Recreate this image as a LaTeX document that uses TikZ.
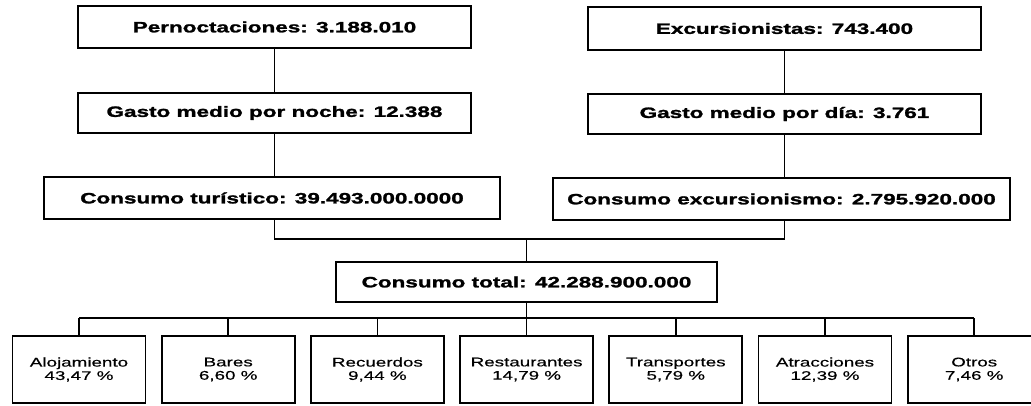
\documentclass[tikz,border=0pt]{standalone}
\usepackage{fontspec}
\newfontfamily\diagfont[FakeStretch=1.5, UprightFeatures={FakeBold=0.5}, BoldFeatures={FakeBold=1.6}]{Liberation Sans}
\tikzset{
  topbox/.style={draw, line width=1.3pt, inner sep=0pt, minimum height=31pt, font=\diagfont\bfseries\fontsize{11.25}{13}\selectfont},
  itembox/.style={draw, line width=1.3pt, inner sep=0pt, minimum width=99.75pt, minimum height=50.25pt, align=center, font=\diagfont\fontsize{9.4}{10}\selectfont},
  link/.style={line width=1.3pt}
}
\begin{document}
\begin{tikzpicture}[x=0.75pt,y=0.75pt,yscale=-1,xscale=1]
\useasboundingbox (0,0) rectangle (1031,406);
\clip (0,0) rectangle (1031,406);

% left column
\node [topbox, minimum width=294.75pt] (pern) at (274.5,27) {Pernoctaciones: 3.188.010};
\node [topbox, minimum width=294.75pt, minimum height=30pt] (gnoche) at (274.5,113) {Gasto medio por noche: 12.388};
\node [topbox, minimum width=342pt] (ctur) at (272,198) {Consumo turístico: 39.493.000.0000};
% right column
\node [topbox, minimum width=294.75pt, minimum height=32pt] (exc) at (784.5,28.5) {Excursionistas: 743.400};
\node [topbox, minimum width=294.75pt, minimum height=30pt] (gdia) at (784.5,114) {Gasto medio por día: 3.761};
\node [topbox, minimum width=342.75pt] (cexc) at (781.5,199) {Consumo excursionismo: 2.795.920.000};
% total
\node [topbox, minimum width=285.75pt, minimum height=30pt] (total) at (526.5,282) {Consumo total: 42.288.900.000};
\coordinate (join) at (526.5,239);
\coordinate (bus) at (526.5,318);

% items
\foreach \txt [count=\i] in {{Alojamiento\\43,47 \%}, {Bares\\6,60 \%}, {Recuerdos\\9,44 \%}, {Restaurantes\\14,79 \%}, {Transportes\\5,79 \%}, {Atracciones\\12,39 \%}, {Otros\\7,46 \%}}
  \node [itembox] (item\i) at ({79+149.2*(\i-1)},369.5) {\txt};

% lines
\draw [link] (pern) -- (gnoche);
\draw [link] (gnoche.south) -- (gnoche.south |- ctur.north);
\draw [link] (exc) -- (gdia);
\draw [link] (gdia.south) -- (gdia.south |- cexc.north);
\draw [link] (gnoche.south |- ctur.south) |- (join) -| (gdia.south |- cexc.south);
\draw [link] (join) -- (total);
\draw [link] (total) -- (bus);
\draw [link] (item1.north |- bus) -- (item7.north |- bus);
\foreach \i in {1,...,7}
  \draw [link] (item\i.north) -- (item\i.north |- bus);
\end{tikzpicture}
\end{document}
